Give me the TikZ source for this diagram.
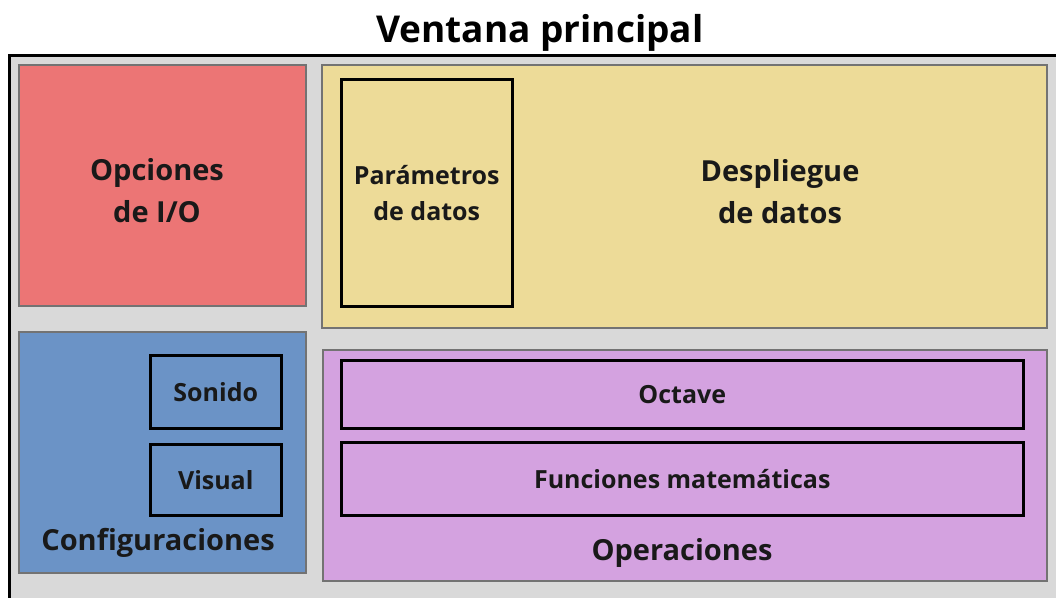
\documentclass[tikz,border=0pt]{standalone}
\usepackage{fontspec}
\setmainfont{Open Sans}
\usetikzlibrary{positioning}

\definecolor{fondo}{HTML}{D9D9D9}
\definecolor{borde}{HTML}{737373}
\definecolor{rojo}{HTML}{EC7575}
\definecolor{amarillo}{HTML}{EDDB98}
\definecolor{azul}{HTML}{6B93C6}
\definecolor{morado}{HTML}{D4A2E0}

\begin{document}
\begin{tikzpicture}[x=1pt,y=-1pt]
       \tikzstyle{panel}=[draw=borde, line width=2pt, anchor=north west, inner sep=0pt]
       \tikzstyle{caja}=[draw=black, line width=2.5pt, anchor=north west, inner sep=0pt]
       \tikzstyle{grande}=[font=\fontsize{29}{42}\selectfont\bfseries, align=center, text=black!90]
       \tikzstyle{chico}=[font=\fontsize{25}{36}\selectfont\bfseries, align=center, text=black!90]

       \useasboundingbox (0,0) rectangle (1056,597);
       \fill[white] (0,0) rectangle (1056,597);
       \node[font=\fontsize{37}{44}\selectfont\bfseries] (titulo) at (540,33) {Ventana principal};

       % ventana
       \begin{scope}
              \clip (0,0) rectangle (1056,597);
              \draw[fill=fondo, line width=3pt] (9.5,55.5) rectangle (1075,620);
       \end{scope}

       % paneles
       \node[panel, fill=rojo, minimum width=287, minimum height=241] (io) at (18,64) {};
       \node[panel, fill=amarillo, minimum width=725, minimum height=263] (despliegue) at (321,64) {};
       \node[panel, fill=azul, minimum width=287, minimum height=241] (config) at (18,331) {};
       \node[panel, fill=morado, minimum width=724, minimum height=231] (operaciones) at (322,349) {};

       % cajas internas
       \node[caja, minimum width=171, minimum height=227, chico] (parametros) at (340,78) {Parámetros\\de datos};
       \node[caja, minimum width=131, minimum height=73, chico] (sonido) at (149,354) {Sonido};
       \node[caja, minimum width=131, minimum height=71, chico] (visual) at (149,443) {Visual};
       \node[caja, minimum width=682, minimum height=68, chico] (octave) at (340,359) {Octave};
       \node[caja, minimum width=682, minimum height=73, chico] (funciones) at (340,441) {Funciones matemáticas};

       % etiquetas
       \node[grande] (io-t) at (157,191) {Opciones\\de I/O};
       \node[grande] (despliegue-t) at (780,192) {Despliegue\\de datos};
       \node[grande] (config-t) at (158,543) {Configuraciones};
       \node[grande] (operaciones-t) at (682,553) {Operaciones};
\end{tikzpicture}
\end{document}
